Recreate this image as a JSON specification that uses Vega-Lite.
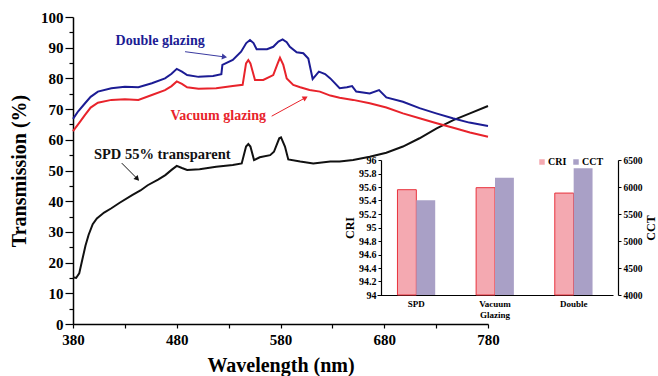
{
  "$schema": "https://vega.github.io/schema/vega-lite/v6.json",
  "width": 415,
  "height": 307,
  "autosize": "none",
  "padding": {"left": 73, "top": 17, "right": 170, "bottom": 52},
  "background": "white",
  "config": {
    "view": {"stroke": null},
    "font": "Liberation Serif",
    "axis": {"labelFont": "Liberation Serif", "titleFont": "Liberation Serif", "labelFontWeight": "bold", "titleFontWeight": "bold", "labelColor": "black", "titleColor": "black", "domainColor": "black", "tickColor": "black", "grid": false},
    "legend": {"labelFont": "Liberation Serif"}
  },
  "datasets": {
    "one": [{}],
    "spectra": [
      {"s": "SPD 55% transparent", "wl": 380, "t": 15.2}, {"s": "SPD 55% transparent", "wl": 383, "t": 15.0}, {"s": "SPD 55% transparent", "wl": 386, "t": 16.5}, {"s": "SPD 55% transparent", "wl": 389, "t": 21}, {"s": "SPD 55% transparent", "wl": 392, "t": 25.5}, {"s": "SPD 55% transparent", "wl": 395, "t": 29}, {"s": "SPD 55% transparent", "wl": 399, "t": 32.5}, {"s": "SPD 55% transparent", "wl": 403, "t": 34.4}, {"s": "SPD 55% transparent", "wl": 410, "t": 36.3}, {"s": "SPD 55% transparent", "wl": 417, "t": 37.7}, {"s": "SPD 55% transparent", "wl": 425, "t": 39.5}, {"s": "SPD 55% transparent", "wl": 437, "t": 42}, {"s": "SPD 55% transparent", "wl": 445, "t": 43.5}, {"s": "SPD 55% transparent", "wl": 452, "t": 45.2}, {"s": "SPD 55% transparent", "wl": 462, "t": 47}, {"s": "SPD 55% transparent", "wl": 469, "t": 48.5}, {"s": "SPD 55% transparent", "wl": 475, "t": 50.2}, {"s": "SPD 55% transparent", "wl": 480, "t": 51.5}, {"s": "SPD 55% transparent", "wl": 485, "t": 50.8}, {"s": "SPD 55% transparent", "wl": 490, "t": 50.2}, {"s": "SPD 55% transparent", "wl": 502, "t": 50.4}, {"s": "SPD 55% transparent", "wl": 518, "t": 51.2}, {"s": "SPD 55% transparent", "wl": 534, "t": 51.8}, {"s": "SPD 55% transparent", "wl": 542.6, "t": 52.3}, {"s": "SPD 55% transparent", "wl": 546.8, "t": 57.8}, {"s": "SPD 55% transparent", "wl": 549, "t": 58.6}, {"s": "SPD 55% transparent", "wl": 551, "t": 57.8}, {"s": "SPD 55% transparent", "wl": 554.5, "t": 53.4}, {"s": "SPD 55% transparent", "wl": 560, "t": 54.3}, {"s": "SPD 55% transparent", "wl": 570, "t": 55}, {"s": "SPD 55% transparent", "wl": 573.7, "t": 56.1}, {"s": "SPD 55% transparent", "wl": 578.8, "t": 60.5}, {"s": "SPD 55% transparent", "wl": 580.5, "t": 60.8}, {"s": "SPD 55% transparent", "wl": 584.3, "t": 57.8}, {"s": "SPD 55% transparent", "wl": 587.5, "t": 53.6}, {"s": "SPD 55% transparent", "wl": 599, "t": 52.9}, {"s": "SPD 55% transparent", "wl": 611.6, "t": 52.3}, {"s": "SPD 55% transparent", "wl": 628, "t": 52.9}, {"s": "SPD 55% transparent", "wl": 637, "t": 52.9}, {"s": "SPD 55% transparent", "wl": 650, "t": 53.4}, {"s": "SPD 55% transparent", "wl": 666, "t": 54.5}, {"s": "SPD 55% transparent", "wl": 682, "t": 55.8}, {"s": "SPD 55% transparent", "wl": 698, "t": 57.8}, {"s": "SPD 55% transparent", "wl": 714, "t": 60.5}, {"s": "SPD 55% transparent", "wl": 730.5, "t": 63.7}, {"s": "SPD 55% transparent", "wl": 746.6, "t": 66.4}, {"s": "SPD 55% transparent", "wl": 762.6, "t": 68.6}, {"s": "SPD 55% transparent", "wl": 780, "t": 71},
      {"s": "Vacuum glazing", "wl": 380, "t": 62.8}, {"s": "Vacuum glazing", "wl": 386, "t": 65.5}, {"s": "Vacuum glazing", "wl": 391.6, "t": 68.1}, {"s": "Vacuum glazing", "wl": 397, "t": 70.5}, {"s": "Vacuum glazing", "wl": 404, "t": 72.1}, {"s": "Vacuum glazing", "wl": 417, "t": 73}, {"s": "Vacuum glazing", "wl": 430, "t": 73.2}, {"s": "Vacuum glazing", "wl": 443, "t": 73}, {"s": "Vacuum glazing", "wl": 456, "t": 74.6}, {"s": "Vacuum glazing", "wl": 468.7, "t": 76.2}, {"s": "Vacuum glazing", "wl": 475, "t": 77.5}, {"s": "Vacuum glazing", "wl": 480, "t": 79}, {"s": "Vacuum glazing", "wl": 485, "t": 78.2}, {"s": "Vacuum glazing", "wl": 490, "t": 77.1}, {"s": "Vacuum glazing", "wl": 501, "t": 76.6}, {"s": "Vacuum glazing", "wl": 518, "t": 76.8}, {"s": "Vacuum glazing", "wl": 534, "t": 77.5}, {"s": "Vacuum glazing", "wl": 543.5, "t": 77.9}, {"s": "Vacuum glazing", "wl": 546.8, "t": 84.9}, {"s": "Vacuum glazing", "wl": 549, "t": 86}, {"s": "Vacuum glazing", "wl": 551, "t": 84.9}, {"s": "Vacuum glazing", "wl": 555.4, "t": 79.5}, {"s": "Vacuum glazing", "wl": 563.4, "t": 79.5}, {"s": "Vacuum glazing", "wl": 573, "t": 81.1}, {"s": "Vacuum glazing", "wl": 577.3, "t": 84.9}, {"s": "Vacuum glazing", "wl": 579.5, "t": 86.7}, {"s": "Vacuum glazing", "wl": 582.7, "t": 84.4}, {"s": "Vacuum glazing", "wl": 586, "t": 80}, {"s": "Vacuum glazing", "wl": 592.3, "t": 77.9}, {"s": "Vacuum glazing", "wl": 599, "t": 77.1}, {"s": "Vacuum glazing", "wl": 608, "t": 76.2}, {"s": "Vacuum glazing", "wl": 618, "t": 75.7}, {"s": "Vacuum glazing", "wl": 628, "t": 74.4}, {"s": "Vacuum glazing", "wl": 637, "t": 73.7}, {"s": "Vacuum glazing", "wl": 650, "t": 73}, {"s": "Vacuum glazing", "wl": 666, "t": 71.9}, {"s": "Vacuum glazing", "wl": 682, "t": 70.5}, {"s": "Vacuum glazing", "wl": 698, "t": 68.6}, {"s": "Vacuum glazing", "wl": 714, "t": 67}, {"s": "Vacuum glazing", "wl": 730.5, "t": 65.4}, {"s": "Vacuum glazing", "wl": 746.6, "t": 63.9}, {"s": "Vacuum glazing", "wl": 762.6, "t": 62.4}, {"s": "Vacuum glazing", "wl": 780, "t": 61},
      {"s": "Double glazing", "wl": 380, "t": 66.8}, {"s": "Double glazing", "wl": 385, "t": 69.3}, {"s": "Double glazing", "wl": 391.6, "t": 71.9}, {"s": "Double glazing", "wl": 397, "t": 74}, {"s": "Double glazing", "wl": 404, "t": 75.7}, {"s": "Double glazing", "wl": 417, "t": 76.8}, {"s": "Double glazing", "wl": 430, "t": 77.3}, {"s": "Double glazing", "wl": 443, "t": 77.1}, {"s": "Double glazing", "wl": 456, "t": 78.4}, {"s": "Double glazing", "wl": 468.7, "t": 80}, {"s": "Double glazing", "wl": 475, "t": 81.5}, {"s": "Double glazing", "wl": 480, "t": 83.1}, {"s": "Double glazing", "wl": 485, "t": 82.2}, {"s": "Double glazing", "wl": 490, "t": 81.1}, {"s": "Double glazing", "wl": 501, "t": 80.5}, {"s": "Double glazing", "wl": 515, "t": 80.8}, {"s": "Double glazing", "wl": 523, "t": 81.4}, {"s": "Double glazing", "wl": 524, "t": 84.4}, {"s": "Double glazing", "wl": 534, "t": 86}, {"s": "Double glazing", "wl": 542, "t": 88.7}, {"s": "Double glazing", "wl": 547, "t": 91.5}, {"s": "Double glazing", "wl": 550.6, "t": 92.5}, {"s": "Double glazing", "wl": 554, "t": 91.5}, {"s": "Double glazing", "wl": 557, "t": 89.5}, {"s": "Double glazing", "wl": 567, "t": 89.5}, {"s": "Double glazing", "wl": 573, "t": 90.3}, {"s": "Double glazing", "wl": 578, "t": 92}, {"s": "Double glazing", "wl": 582, "t": 92.7}, {"s": "Double glazing", "wl": 586, "t": 91.8}, {"s": "Double glazing", "wl": 589, "t": 90.3}, {"s": "Double glazing", "wl": 595.6, "t": 88.5}, {"s": "Double glazing", "wl": 602, "t": 88.2}, {"s": "Double glazing", "wl": 606.8, "t": 86.5}, {"s": "Double glazing", "wl": 609, "t": 83}, {"s": "Double glazing", "wl": 611, "t": 79.8}, {"s": "Double glazing", "wl": 614, "t": 81}, {"s": "Double glazing", "wl": 617, "t": 82.2}, {"s": "Double glazing", "wl": 623, "t": 81.4}, {"s": "Double glazing", "wl": 628, "t": 80}, {"s": "Double glazing", "wl": 637, "t": 76.8}, {"s": "Double glazing", "wl": 644, "t": 77.1}, {"s": "Double glazing", "wl": 649, "t": 77.5}, {"s": "Double glazing", "wl": 653, "t": 75.7}, {"s": "Double glazing", "wl": 666, "t": 75.1}, {"s": "Double glazing", "wl": 675, "t": 76.2}, {"s": "Double glazing", "wl": 682, "t": 73.8}, {"s": "Double glazing", "wl": 698, "t": 72.4}, {"s": "Double glazing", "wl": 714, "t": 70.3}, {"s": "Double glazing", "wl": 730, "t": 68.6}, {"s": "Double glazing", "wl": 746, "t": 67}, {"s": "Double glazing", "wl": 762, "t": 65.6}, {"s": "Double glazing", "wl": 780, "t": 64.5}
    ],
    "inset": [
      {"glazing": "SPD", "measure": "CRI", "value": 95.56},
      {"glazing": "SPD", "measure": "CCT", "value": 5755},
      {"glazing": "Vacuum Glazing", "measure": "CRI", "value": 95.59},
      {"glazing": "Vacuum Glazing", "measure": "CCT", "value": 6172},
      {"glazing": "Double", "measure": "CRI", "value": 95.51},
      {"glazing": "Double", "measure": "CCT", "value": 6346}
    ]
  },
  "layer": [
    {
      "data": {"name": "one"},
      "mark": {"type": "rule", "opacity": 0},
      "encoding": {
        "y": {"datum": 0, "type": "quantitative", "scale": {"domain": [0, 100], "nice": false},
          "axis": {"orient": "left", "title": null, "values": [5, 15, 25, 35, 45, 55, 65, 75, 85, 95], "labels": false, "domain": false, "tickSize": 4, "tickWidth": 1.2}}
      }
    },
    {
      "data": {"name": "spectra"},
      "mark": {"type": "line", "strokeWidth": 2},
      "encoding": {
        "x": {"field": "wl", "type": "quantitative", "scale": {"domain": [380, 780], "nice": false},
          "axis": {"orient": "bottom", "title": "Wavelength (nm)", "values": [380, 430, 480, 530, 580, 630, 680, 730, 780], "labelExpr": "datum.value % 100 == 80 ? datum.label : ''", "labelFontSize": 15, "titleFontSize": 20, "tickSize": 4, "labelPadding": 4, "titlePadding": 8, "domainWidth": 1.5, "tickWidth": 1.2, "labelFlush": false}},
        "y": {"field": "t", "type": "quantitative", "scale": {"domain": [0, 100], "nice": false},
          "axis": {"orient": "left", "title": "Transmission (%)", "values": [0, 10, 20, 30, 40, 50, 60, 70, 80, 90, 100], "labelFontSize": 15, "titleFontSize": 20, "tickSize": 8, "labelPadding": 2, "titlePadding": 11, "domainWidth": 1.5, "tickWidth": 1.2}},
        "color": {"field": "s", "type": "nominal", "legend": null, "scale": {"domain": ["SPD 55% transparent", "Vacuum glazing", "Double glazing"], "range": ["#111111", "#e8232b", "#1c1c94"]}}
      }
    },
    {
      "data": {"name": "one"},
      "mark": {"type": "text", "fontWeight": "bold", "fontSize": 14, "font": "Liberation Serif", "color": "#1c1c94"},
      "encoding": {"x": {"datum": 464, "type": "quantitative", "scale": {"domain": [380, 780], "nice": false}, "axis": null}, "y": {"datum": 92.2, "type": "quantitative", "scale": {"domain": [0, 100], "nice": false}, "axis": null}, "text": {"value": "Double glazing"}}
    },
    {
      "data": {"name": "one"},
      "mark": {"type": "text", "fontWeight": "bold", "fontSize": 14, "font": "Liberation Serif", "color": "#e8232b"},
      "encoding": {"x": {"datum": 520, "type": "quantitative", "scale": {"domain": [380, 780], "nice": false}, "axis": null}, "y": {"datum": 67.7, "type": "quantitative", "scale": {"domain": [0, 100], "nice": false}, "axis": null}, "text": {"value": "Vacuum glazing"}}
    },
    {
      "data": {"name": "one"},
      "mark": {"type": "text", "fontWeight": "bold", "fontSize": 14.5, "font": "Liberation Serif", "color": "#111111"},
      "encoding": {"x": {"datum": 466, "type": "quantitative", "scale": {"domain": [380, 780], "nice": false}, "axis": null}, "y": {"datum": 55, "type": "quantitative", "scale": {"domain": [0, 100], "nice": false}, "axis": null}, "text": {"value": "SPD 55% transparent"}}
    },
    {
      "data": {"name": "one"},
      "mark": {"type": "rule", "color": "#3a3aa0", "strokeWidth": 1},
      "encoding": {"x": {"datum": 488, "type": "quantitative", "scale": {"domain": [380, 780], "nice": false}, "axis": null}, "y": {"datum": 88.7, "type": "quantitative", "scale": {"domain": [0, 100], "nice": false}, "axis": null}, "x2": {"datum": 526}, "y2": {"datum": 87.0}}
    },
    {
      "data": {"name": "one"},
      "mark": {"type": "point", "shape": "triangle-right", "filled": true, "size": 35, "angle": 8, "color": "#3a3aa0", "opacity": 1},
      "encoding": {"x": {"datum": 526, "type": "quantitative", "scale": {"domain": [380, 780], "nice": false}, "axis": null}, "y": {"datum": 87.0, "type": "quantitative", "scale": {"domain": [0, 100], "nice": false}, "axis": null}}
    },
    {
      "data": {"name": "one"},
      "mark": {"type": "rule", "color": "#e8232b", "strokeWidth": 1},
      "encoding": {"x": {"datum": 571.5, "type": "quantitative", "scale": {"domain": [380, 780], "nice": false}, "axis": null}, "y": {"datum": 67.7, "type": "quantitative", "scale": {"domain": [0, 100], "nice": false}, "axis": null}, "x2": {"datum": 604}, "y2": {"datum": 73.7}}
    },
    {
      "data": {"name": "one"},
      "mark": {"type": "point", "shape": "triangle-right", "filled": true, "size": 35, "angle": 331, "color": "#e8232b", "opacity": 1},
      "encoding": {"x": {"datum": 604, "type": "quantitative", "scale": {"domain": [380, 780], "nice": false}, "axis": null}, "y": {"datum": 73.7, "type": "quantitative", "scale": {"domain": [0, 100], "nice": false}, "axis": null}}
    },
    {
      "data": {"name": "one"},
      "mark": {"type": "rule", "color": "#111111", "strokeWidth": 1},
      "encoding": {"x": {"datum": 427, "type": "quantitative", "scale": {"domain": [380, 780], "nice": false}, "axis": null}, "y": {"datum": 52.4, "type": "quantitative", "scale": {"domain": [0, 100], "nice": false}, "axis": null}, "x2": {"datum": 442}, "y2": {"datum": 47.3}}
    },
    {
      "data": {"name": "one"},
      "mark": {"type": "point", "shape": "triangle-right", "filled": true, "size": 35, "angle": 46, "color": "#111111", "opacity": 1},
      "encoding": {"x": {"datum": 442, "type": "quantitative", "scale": {"domain": [380, 780], "nice": false}, "axis": null}, "y": {"datum": 47.3, "type": "quantitative", "scale": {"domain": [0, 100], "nice": false}, "axis": null}}
    },
    {
      "data": {"name": "inset"},
      "encoding": {
        "x": {"field": "glazing", "type": "nominal", "sort": null,
          "scale": {"domain": ["SPD", "Vacuum Glazing", "Double"], "range": [304, 540], "paddingInner": 0.52, "paddingOuter": 0.26},
          "axis": {"orient": "bottom", "offset": -29, "title": null, "ticks": false, "labelAngle": 0, "labelFontSize": 9, "labelPadding": 4, "labelExpr": "datum.value == 'Vacuum Glazing' ? ['Vacuum', 'Glazing'] : datum.label", "domainWidth": 1.2}},
        "xOffset": {"field": "measure", "type": "nominal", "scale": {"domain": ["CRI", "CCT"], "paddingInner": 0, "paddingOuter": 0}},
        "color": {"field": "measure", "type": "nominal",
          "scale": {"domain": ["CRI", "CCT"], "range": ["#f4a9b1", "#a9a0c6"]},
          "legend": {"orient": "none", "legendX": 464, "legendY": 140, "direction": "horizontal", "title": null, "symbolType": "square", "symbolSize": 30, "labelFontSize": 10, "labelFontWeight": "bold", "labelColor": "black", "columnPadding": 4, "labelOffset": 1, "symbolStrokeWidth": 0}}
      },
      "layer": [
        {
          "transform": [{"filter": "datum.measure == 'CRI'"}],
          "mark": {"type": "bar", "stroke": "#e8323c", "strokeWidth": 1},
          "encoding": {
            "y": {"field": "value", "type": "quantitative", "scale": {"domain": [94, 96], "range": [278, 143], "nice": false, "zero": false},
              "axis": {"orient": "left", "offset": -308, "title": "CRI", "titleFontSize": 12, "titlePadding": 2, "values": [94, 94.2, 94.4, 94.6, 94.8, 95, 95.2, 95.4, 95.6, 95.8, 96], "format": ".1~f", "labelFontSize": 10, "tickSize": 3, "labelPadding": 2, "domainWidth": 1.2}},
            "y2": {"datum": 94}
          }
        },
        {
          "transform": [{"filter": "datum.measure == 'CCT'"}],
          "mark": {"type": "bar"},
          "encoding": {
            "y": {"field": "value", "type": "quantitative", "scale": {"domain": [4000, 6500], "range": [278, 143], "nice": false, "zero": false},
              "axis": {"orient": "right", "offset": 130, "title": "CCT", "titleAngle": 270, "titleBaseline": "top", "titleFontSize": 12, "titlePadding": 3, "values": [4000, 4500, 5000, 5500, 6000, 6500], "format": "d", "labelFontSize": 9.5, "tickSize": 3, "labelPadding": 2, "domainWidth": 1.2}},
            "y2": {"datum": 4000}
          }
        }
      ],
      "resolve": {"scale": {"y": "independent"}, "axis": {"y": "independent"}}
    }
  ],
  "resolve": {"scale": {"x": "independent", "y": "independent", "color": "independent"}, "axis": {"x": "independent", "y": "independent"}}
}
